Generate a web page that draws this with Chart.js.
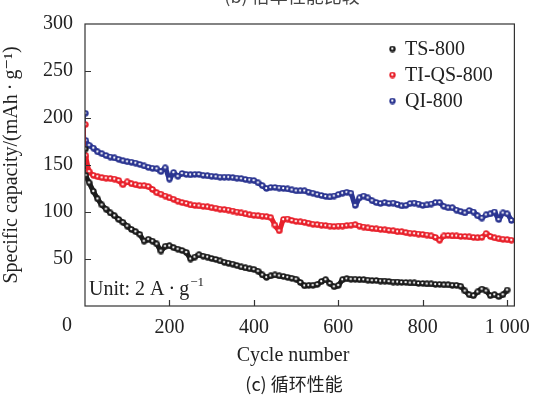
<!doctype html>
<html>
<head>
<meta charset="utf-8">
<title>Cycle</title>
<script src="https://cdn.jsdelivr.net/npm/chart.js@4.4.1/dist/chart.umd.min.js"></script>
<style>
  html, body { margin: 0; padding: 0; background: #fff; }
  #wrap { width: 540px; height: 400px; position: relative; }
</style>
</head>
<body>
<div id="wrap"><canvas id="canvas" width="540" height="400"></canvas></div>
<script>
// cycle numbers sampled along the curves
var cycles = [1, 2, 10, 20, 30, 40, 50, 60, 70, 80, 90, 100, 110, 120, 130, 140, 150, 160, 170, 180, 190, 200,
  210, 220, 230, 240, 250, 260, 270, 280, 290, 300, 310, 320, 330, 340, 350, 360, 370, 380, 390, 400,
  410, 420, 430, 440, 450, 460, 470, 480, 490, 500, 510, 520, 530, 540, 550, 560, 570, 580, 590, 600,
  610, 620, 630, 640, 650, 660, 670, 680, 690, 700, 710, 720, 730, 740, 750, 760, 770, 780, 790, 800,
  810, 820, 830, 840, 850, 860, 870, 880, 890, 900, 910, 920, 930, 940, 950, 960, 970, 980, 990, 1000, 1010];

var ts800 = [167, 139, 131, 122, 114, 107.5, 103, 99, 96, 92, 89, 85, 81.5, 79, 76, 69, 71, 69, 66, 58.5, 63.5, 64,
  62, 60.5, 59, 57, 50, 52, 54.5, 53, 52, 50.5, 49.5, 48, 46.5, 45.5, 44.5, 43, 41.5, 40.5, 39.5, 39,
  37, 33, 30.5, 32, 33, 32, 31.5, 30.5, 29.5, 28.5, 25, 21.5, 22, 22, 23, 26, 28, 24, 20.5, 22,
  28, 29, 28.5, 28.5, 28, 28, 27.5, 27, 27, 26.5, 26.5, 26, 25.5, 25.5, 25, 25, 24.5, 24.5, 24, 24,
  23.5, 23.5, 23, 23, 22.5, 22.5, 22, 22, 21, 16, 12, 11, 15, 18, 16, 11, 12, 10, 12, 17, null];

var tiqs800 = [193, 160, 143, 139, 137.5, 136.5, 136, 135.5, 135, 133.5, 129, 132, 130, 129, 128, 128, 127, 124, 120.5, 119, 117, 115,
  113.5, 111.5, 110, 109, 107.5, 107, 106.5, 106, 105.5, 104.5, 104, 103, 102.5, 102, 101, 100, 99, 98, 97, 96.5,
  96, 95.5, 95, 94, 86, 80, 92, 92.5, 91, 90, 89.5, 89, 88, 87, 86.5, 86, 85.5, 85, 84.5, 85,
  85, 85.5, 86, 86.5, 85, 84, 83, 82.5, 82, 81.5, 81, 80.5, 80, 79, 79, 78, 77.5, 77, 76.5, 76,
  75.5, 74.5, 73, 70, 74.5, 75, 74.5, 74.5, 74, 74, 73.5, 73, 72.5, 73, 77, 74, 72.5, 71.5, 71, 70.5, 70];

var qi800 = [205, 176, 171, 168, 164, 162, 160, 158.5, 157.5, 156, 154.5, 153.5, 153, 152, 150.5, 149, 147.5, 146.5, 146, 143, 147, 135,
  142, 138, 141, 140, 139.5, 140, 140, 139, 138.5, 138, 137.5, 137, 137, 137, 136.5, 136, 135.5, 134.5, 134, 133.5,
  131, 128, 125, 126, 126, 125.5, 125, 124.5, 123.5, 122.5, 122.5, 122.5, 121, 120, 118.5, 117.5, 116.5, 116, 117, 118.5,
  120, 121, 120, 107, 115, 117, 115, 112, 110, 109, 110, 109, 109.5, 108, 106.5, 107, 109, 109.5, 108.5, 107,
  107.5, 108.5, 110, 110, 106, 104.5, 104.5, 102, 100.5, 99, 101.5, 100, 96, 93.5, 97, 98, 100, 92, 99, 98, 91];

var seriesNames = ['TS-800', 'TI-QS-800', 'QI-800'];
var seriesColors = ['#1c1c1c', '#e8212b', '#2b3591'];
var xTicks = [0, 200, 400, 600, 800, 1000];
var yTicks = [50, 100, 150, 200, 250, 300];

var serif = "'Liberation Serif', 'DejaVu Serif', serif";
var cjk = "'Noto Sans CJK SC', sans-serif";

// small shaded ball used as marker
function ball(color) {
  var c = document.createElement('canvas');
  c.width = 7; c.height = 7;
  var g = c.getContext('2d');
  g.beginPath(); g.arc(3.5, 3.5, 3.2, 0, Math.PI * 2);
  g.fillStyle = color; g.fill();
  g.beginPath(); g.arc(3.3, 3.1, 1.2, 0, Math.PI * 2);
  g.fillStyle = '#ffffff'; g.fill();
  return c;
}

function pts(vals) {
  return cycles.map(function (c, i) { return { x: c, y: vals[i] }; });
}

var allVals = [ts800, tiqs800, qi800];
var datasets = allVals.map(function (vals, i) {
  return {
    label: seriesNames[i],
    data: pts(vals),
    showLine: true,
    borderWidth: 5,
    tension: 0.2,
    // first cycle stands apart from the rest
    segment: { borderWidth: function (s) { return s.p0DataIndex === 0 ? 0 : 5; } },
    pointStyle: ball(seriesColors[i]),
    pointRadius: 3,
    borderColor: seriesColors[i],
    backgroundColor: seriesColors[i]
  };
});

var decor = {
  id: 'decor',
  afterDraw: function (chart) {
    var ctx = chart.ctx, a = chart.chartArea;
    var xs = chart.scales.x, ys = chart.scales.y;
    ctx.save();
    // frame
    ctx.strokeStyle = '#333';
    ctx.lineWidth = 1.2;
    ctx.strokeRect(a.left, a.top, a.right - a.left, a.bottom - a.top);
    // inward ticks
    ctx.beginPath();
    xTicks.forEach(function (v) {
      if (v === 0) return;
      var px = Math.round(xs.getPixelForValue(v)) + 0.5;
      ctx.moveTo(px, a.bottom); ctx.lineTo(px, a.bottom - 6);
    });
    yTicks.forEach(function (v) {
      if (v === 300) return;
      var py = Math.round(ys.getPixelForValue(v)) + 0.5;
      ctx.moveTo(a.left, py); ctx.lineTo(a.left + 6, py);
    });
    ctx.stroke();

    ctx.fillStyle = '#222';
    ctx.textBaseline = 'middle';
    // "0" label sits left of the axis in the original
    ctx.font = '20px ' + serif;
    ctx.textAlign = 'center';
    ctx.fillText('0', 67, 326);

    // legend
    ctx.textAlign = 'left';
    seriesNames.forEach(function (n, i) {
      var y = 49 + i * 26;
      ctx.drawImage(datasets[i].pointStyle, 389, y - 3.5);
      ctx.fillStyle = '#222';
      ctx.fillText(n, 405, y + 1);
    });

    // unit label
    ctx.textBaseline = 'alphabetic';
    ctx.font = '20px ' + serif;
    var ux = 89, uy = 295;
    var t1 = 'Unit: 2 A\u2009\u00b7\u2009g';
    ctx.fillText(t1, ux, uy);
    var w = ctx.measureText(t1).width;
    ctx.font = '13px ' + serif;
    ctx.fillText('\u22121', ux + w + 1, uy - 9);

    // x title and caption
    ctx.textAlign = 'center';
    ctx.textBaseline = 'middle';
    ctx.font = '20px ' + serif;
    ctx.fillText('Cycle number', 293, 356);
    ctx.font = '18px ' + cjk;
    ctx.fillText('(c) \u5faa\u73af\u6027\u80fd', 294, 384);
    // top caption of the panel above, cut by the edge
    ctx.fillStyle = '#444';
    ctx.fillText('(b) \u500d\u7387\u6027\u80fd\u6bd4\u8f83', 292, -4);
    ctx.restore();
  }
};

var config = {
  type: 'line',
  data: { datasets: datasets },
  plugins: [decor],
  options: {
    responsive: false,
    animation: false,
    layout: { padding: { left: 0, right: 17, top: 19, bottom: 59 } },
    plugins: { legend: { display: false }, tooltip: { enabled: false } },
    scales: {
      x: {
        type: 'linear', min: 0, max: 1017,
        border: { display: false },
        grid: { display: false, drawTicks: false },
        afterFit: function (s) { s.height = 35; },
        afterBuildTicks: function (s) { s.ticks = xTicks.map(function (v) { return { value: v }; }); },
        ticks: {
          padding: 10, color: '#222', maxRotation: 0,
          font: { family: serif, size: 20 },
          callback: function (v) { return v === 0 ? '' : (v === 1000 ? '1 000' : String(v)); }
        }
      },
      y: {
        min: 0, max: 300,
        border: { display: false },
        grid: { display: false, drawTicks: false },
        afterFit: function (s) { s.width = 85; },
        afterBuildTicks: function (s) { s.ticks = yTicks.map(function (v) { return { value: v }; }); },
        ticks: {
          padding: 12, color: '#222',
          font: { family: serif, size: 20 }
        },
        title: {
          display: true, text: 'Specific capacity/(mAh\u2009\u00b7\u2009g\u207b\u00b9)',
          color: '#222', font: { family: serif, size: 20 }, padding: { top: 0, bottom: 0 }
        }
      }
    }
  }
};

var ctx = document.getElementById('canvas').getContext('2d');
window.myChart = new Chart(ctx, config);
</script>
</body>
</html>
